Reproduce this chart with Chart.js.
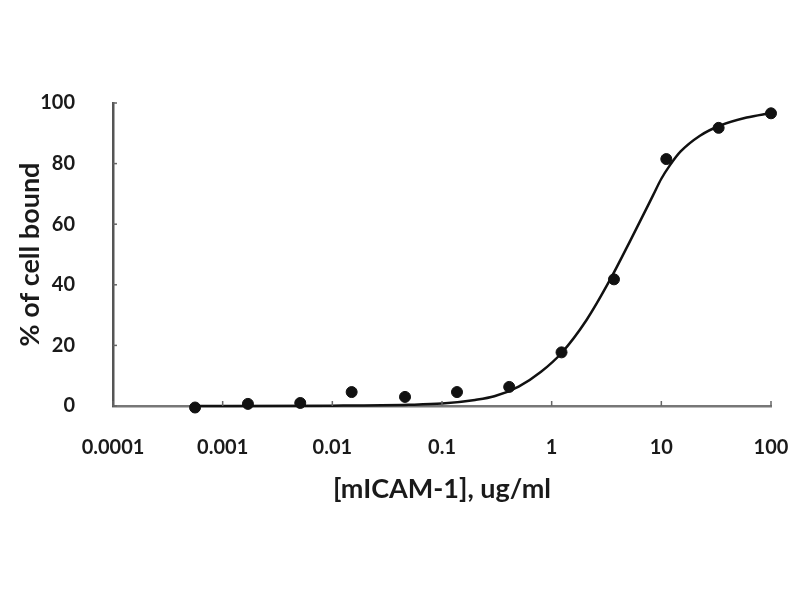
<!DOCTYPE html>
<html lang="en">
<head>
  <meta charset="UTF-8">
  <title>mICAM-1 cell binding</title>
  <style>
    body { margin: 0; background: #ffffff; }
    #wrap { width: 800px; height: 600px; }
  </style>
  <script src="https://cdn.jsdelivr.net/npm/chart.js"></script>
</head>
<body>
  <div id="wrap"><canvas id="bindChart" width="800" height="600"></canvas></div>

  <script>
    // measured points (3-fold dilution series)
    const concs = [0.00056, 0.0017, 0.0051, 0.015, 0.046, 0.137, 0.41, 1.23, 3.7, 11.1, 33.3, 100];
    const bound = [-0.5, 0.7, 1, 4.6, 3, 4.6, 6.3, 17.7, 41.8, 81.5, 91.8, 96.6];

    // fitted curve
    const fitX = [0.00056, 0.001, 0.01, 0.05, 0.1, 0.2, 0.3, 0.5, 0.8, 1.23, 2.08, 3.4, 5.2, 8.4, 10, 12, 15, 22.5, 34, 60, 100];
    const fitY = [0, 0, 0.1, 0.4, 0.8, 2, 3.2, 6.4, 11.3, 17.5, 28.4, 41.6, 54.5, 69.5, 75, 79.5, 84, 89.2, 92.5, 95.2, 96.7];

    const xTicks = [0.0001, 0.001, 0.01, 0.1, 1, 10, 100];
    const yTicks = [0, 20, 40, 60, 80, 100];

    const textColor = '#1a1a1a';
    const fontFamily = 'Lato, "Open Sans", sans-serif';

    // short tick marks pointing into the plot, like the original
    const innerTicks = {
      id: 'innerTicks',
      afterDraw(chart) {
        const ctx = chart.ctx;
        const x = chart.scales.x, y = chart.scales.y;
        ctx.save();
        ctx.strokeStyle = '#666';
        ctx.lineWidth = 1.5;
        xTicks.forEach(v => {
          const px = x.getPixelForValue(v);
          ctx.beginPath();
          ctx.moveTo(px, y.bottom);
          ctx.lineTo(px, y.bottom - 5);
          ctx.stroke();
        });
        yTicks.forEach(v => {
          const py = y.getPixelForValue(v);
          ctx.beginPath();
          ctx.moveTo(x.left, py);
          ctx.lineTo(x.left + 4, py);
          ctx.stroke();
        });
        ctx.restore();
      }
    };

    const ctx = document.getElementById('bindChart').getContext('2d');
    new Chart(ctx, {
      type: 'scatter',
      data: {
        datasets: [
          {
            label: 'fit',
            data: fitX.map((v, i) => ({ x: v, y: fitY[i] })),
            showLine: true,
            borderColor: '#111',
            borderWidth: 2.5,
            pointRadius: 0,
            cubicInterpolationMode: 'monotone',
            order: 2
          },
          {
            label: '% bound',
            data: concs.map((v, i) => ({ x: v, y: bound[i] })),
            backgroundColor: '#111',
            borderColor: '#111',
            pointRadius: 5.5,
            order: 1
          }
        ]
      },
      options: {
        responsive: false,
        animation: false,
        clip: false,
        layout: { padding: { top: 103, right: 29, left: 0, bottom: 0 } },
        plugins: {
          legend: { display: false },
          tooltip: { enabled: false }
        },
        scales: {
          x: {
            type: 'logarithmic',
            min: 0.0001,
            max: 100,
            afterBuildTicks: scale => { scale.ticks = xTicks.map(v => ({ value: v })); },
            afterFit: scale => {
              scale.height = 194;
              scale.paddingLeft = 0;
              scale.paddingRight = 0;
            },
            grid: { display: false },
            border: { display: true, color: '#777', width: 2.5 },
            ticks: {
              padding: 22,
              maxRotation: 0,
              color: textColor,
              font: { family: fontFamily, size: 20, weight: 'bold' },
              callback: v => String(v)
            },
            title: {
              display: true,
              text: '[mICAM-1], ug/ml',
              color: textColor,
              padding: { top: 0, bottom: 95 },
              font: { family: fontFamily, size: 27, weight: 'bold' }
            }
          },
          y: {
            min: 0,
            max: 100,
            afterBuildTicks: scale => { scale.ticks = yTicks.map(v => ({ value: v })); },
            afterFit: scale => { scale.width = 113; },
            grid: { display: false },
            border: { display: true, color: '#555', width: 2.5 },
            ticks: {
              padding: 30,
              color: textColor,
              font: { family: fontFamily, size: 20, weight: 'bold' }
            },
            title: {
              display: true,
              text: '% of cell bound',
              color: textColor,
              padding: { top: 14, bottom: 0 },
              font: { family: fontFamily, size: 27, weight: 'bold' }
            }
          }
        }
      },
      plugins: [innerTicks]
    });
  </script>
</body>
</html>
